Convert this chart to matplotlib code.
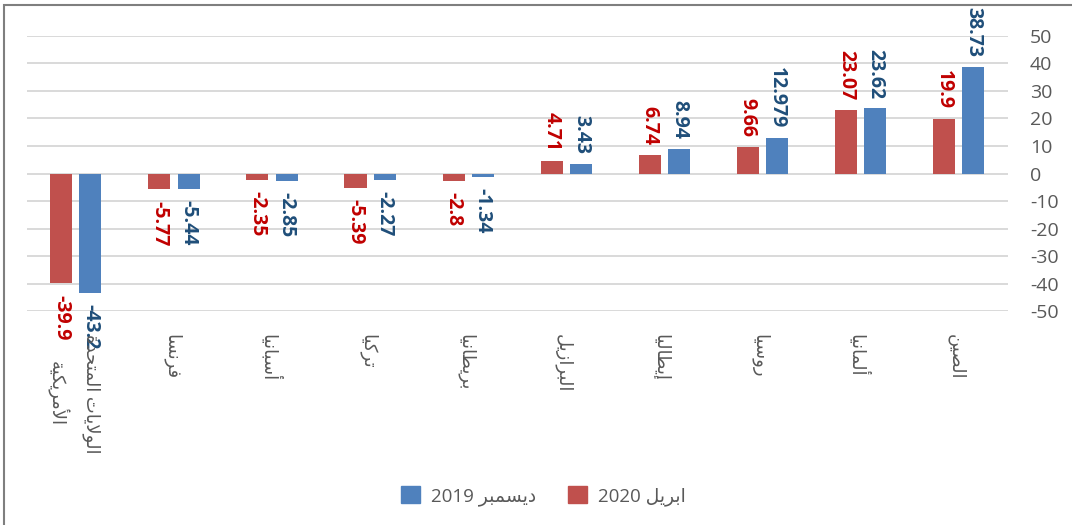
import re
import numpy as np
import matplotlib
matplotlib.use("Agg")
import matplotlib.pyplot as plt
from matplotlib.patches import Rectangle, Patch

# chart data (left to right)
countries = ["الولايات المتحدة\nالأمريكية", "فرنسا", "أسبانيا", "تركيا", "بريطانيا",
             "البرازيل", "إيطاليا", "روسيا", "ألمانيا", "الصين"]
apr_2020 = [-39.9, -5.77, -2.35, -5.39, -2.8, 4.71, 6.74, 9.66, 23.07, 19.9]
dec_2019 = [-43.2, -5.44, -2.85, -2.27, -1.34, 3.43, 8.94, 12.979, 23.62, 38.73]
series_names = ["ابريل 2020", "ديسمبر 2019"]
yticks = [-50, -40, -30, -20, -10, 0, 10, 20, 30, 40, 50]

# --- minimal Arabic shaping (presentation forms) + visual reordering ---
# letter: (isolated, final, initial, medial)
FORMS = {
    "ا": (0xFE8D, 0xFE8E, None, None), "أ": (0xFE83, 0xFE84, None, None),
    "إ": (0xFE87, 0xFE88, None, None), "ب": (0xFE8F, 0xFE90, 0xFE91, 0xFE92),
    "ة": (0xFE93, 0xFE94, None, None), "ت": (0xFE95, 0xFE96, 0xFE97, 0xFE98),
    "ح": (0xFEA1, 0xFEA2, 0xFEA3, 0xFEA4), "د": (0xFEA9, 0xFEAA, None, None),
    "ر": (0xFEAD, 0xFEAE, None, None), "ز": (0xFEAF, 0xFEB0, None, None),
    "س": (0xFEB1, 0xFEB2, 0xFEB3, 0xFEB4), "ص": (0xFEB9, 0xFEBA, 0xFEBB, 0xFEBC),
    "ط": (0xFEC1, 0xFEC2, 0xFEC3, 0xFEC4), "ف": (0xFED1, 0xFED2, 0xFED3, 0xFED4),
    "ك": (0xFED9, 0xFEDA, 0xFEDB, 0xFEDC), "ل": (0xFEDD, 0xFEDE, 0xFEDF, 0xFEE0),
    "م": (0xFEE1, 0xFEE2, 0xFEE3, 0xFEE4), "ن": (0xFEE5, 0xFEE6, 0xFEE7, 0xFEE8),
    "و": (0xFEED, 0xFEEE, None, None), "ي": (0xFEF1, 0xFEF2, 0xFEF3, 0xFEF4),
}
LAM_ALEF = {"ا": (0xFEFB, 0xFEFC), "أ": (0xFEF7, 0xFEF8), "إ": (0xFEF9, 0xFEFA)}


def shape_line(s):
    out = []
    i = 0
    while i < len(s):
        c = s[i]
        if c not in FORMS:
            out.append(c)
            i += 1
            continue
        prev = s[i - 1] if i > 0 else ""
        prev_joins = prev in FORMS and FORMS[prev][2] is not None
        if c == "ل" and i + 1 < len(s) and s[i + 1] in LAM_ALEF:
            iso, fin = LAM_ALEF[s[i + 1]]
            out.append(chr(fin if prev_joins else iso))
            i += 2
            continue
        nxt = s[i + 1] if i + 1 < len(s) else ""
        next_joins = nxt in FORMS
        iso, fin, ini, med = FORMS[c]
        if prev_joins and next_joins and med:
            f = med
        elif prev_joins:
            f = fin
        elif next_joins and ini:
            f = ini
        else:
            f = iso
        out.append(chr(f))
        i += 1
    shaped = "".join(out)
    # visual order: reverse runs, keep digit runs left-to-right
    tokens = re.findall(r"[0-9.]+|[^0-9.]+", shaped)
    return "".join(t if re.fullmatch(r"[0-9.]+", t) else t[::-1] for t in reversed(tokens))


def ar(s):
    return "\n".join(shape_line(line) for line in s.split("\n"))


FAMILY = ["Open Sans", "DejaVu Sans"]
plt.rcParams["font.family"] = FAMILY
plt.rcParams["axes.unicode_minus"] = False

RED = "#C0504D"
BLUE = "#4F81BD"
RED_TXT = "#C00000"
BLUE_TXT = "#1F4E79"
GREY_TXT = "#595959"

fig = plt.figure(figsize=(10.72, 5.25), dpi=100)
ax = fig.add_axes([0.025, 0.407, 0.915, 0.525])

x = np.arange(len(countries))
w = 0.225
off = 0.149
ax.bar(x - off, apr_2020, w, color=RED, zorder=2)
ax.bar(x + off, dec_2019, w, color=BLUE, zorder=2)

for xs, vals, col in [(x - off, apr_2020, RED_TXT), (x + off, dec_2019, BLUE_TXT)]:
    for xi, v in zip(xs, vals):
        ax.annotate(f"{v:g}", (xi, v), xytext=(0, 7 if v >= 0 else -8),
                    textcoords="offset points", rotation=-90, ha="center",
                    va="bottom" if v >= 0 else "top", fontsize=14,
                    fontweight="bold", color=col, annotation_clip=False, zorder=3)

ax.set_xlim(-0.5, len(countries) - 0.5)
ax.set_ylim(-50, 50)
ax.set_yticks(yticks)
ax.yaxis.tick_right()
ax.tick_params(axis="y", length=0, pad=16, labelsize=14, labelcolor=GREY_TXT)
ax.grid(axis="y", color="#D9D9D9", linewidth=1.4, zorder=0)
ax.set_axisbelow(True)
for sp in ax.spines.values():
    sp.set_visible(False)

ax.set_xticks([])
for xi, name in zip(x, countries):
    ax.annotate(ar(name), (xi, -50), xytext=(-2, -16), textcoords="offset points",
                rotation=-90, ha="center", va="top", multialignment="center",
                fontsize=13, color=GREY_TXT, family=FAMILY, annotation_clip=False,
                linespacing=1.8)

handles = [Patch(color=BLUE), Patch(color=RED)]
labels = [ar(series_names[1]), ar(series_names[0])]
fig.legend(handles, labels, loc="center", bbox_to_anchor=(0.507, 0.055), ncol=2,
           frameon=False, fontsize=13.5, labelcolor=GREY_TXT, handlelength=1.0,
           handleheight=1.0, handletextpad=0.6, columnspacing=1.7)

# outer chart border (only top/left visible in the reference)
fig.add_artist(Rectangle((4 / 1072, -0.1), 1.2, 1.1 - 5 / 525, transform=fig.transFigure,
                         fill=False, edgecolor="#7F7F7F", linewidth=1.5))

fig.savefig("out.png", dpi=100)
